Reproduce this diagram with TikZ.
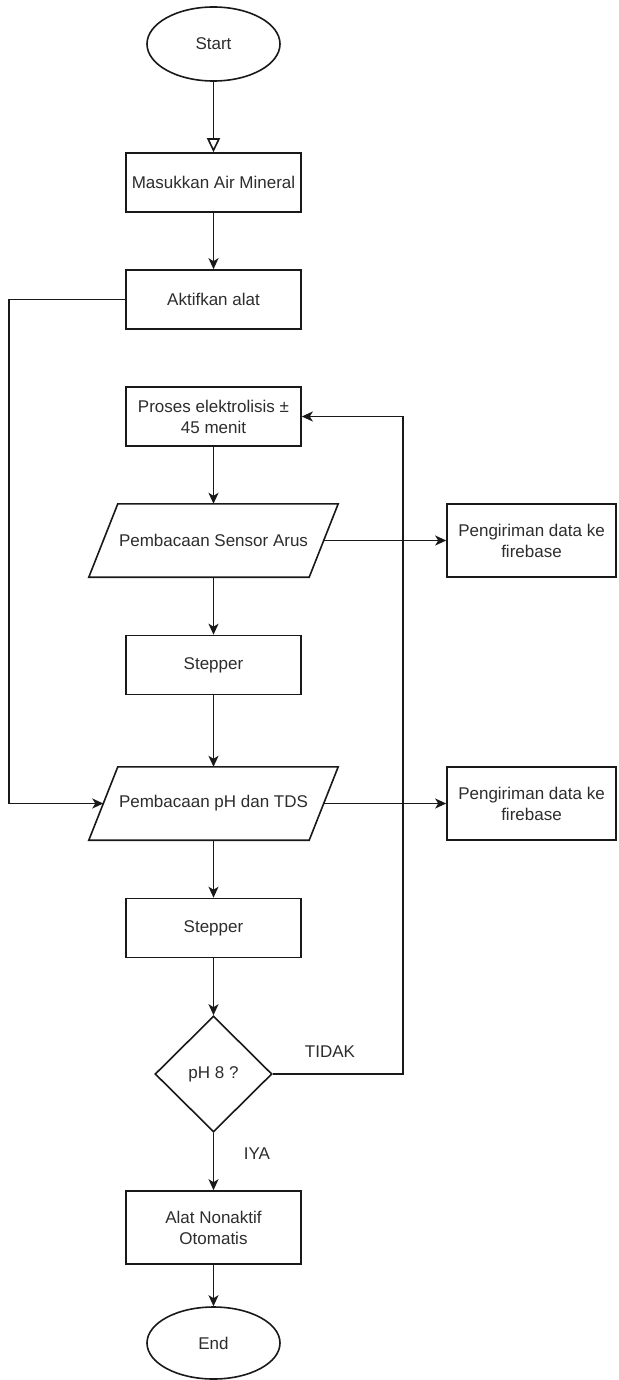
\documentclass[tikz,border=0pt]{standalone}
\usepackage{fontspec}
\setmainfont{Liberation Sans}
\usetikzlibrary{shapes.geometric,arrows.meta}
\definecolor{txt}{RGB}{45,45,45}
\definecolor{ln}{RGB}{25,25,25}
\begin{document}
\begin{tikzpicture}[x=1pt,y=-1pt,
  every node/.style={font=\fontsize{17}{21}\selectfont, text=txt, inner sep=0pt},
  box/.style={draw=ln, line width=1.6pt, minimum width=175pt, minimum height=59pt, align=center},
  fbox/.style={box, minimum width=169pt, minimum height=73pt},
  term/.style={draw=ln, line width=1.6pt, ellipse, minimum width=133pt, minimum height=74pt},
  para/.style={minimum width=220pt, minimum height=73pt},
  paraline/.style={draw=ln, line width=1.6pt, line join=miter},
  dec/.style={draw=ln, line width=1.6pt, diamond, minimum width=117pt, minimum height=116pt},
  arr/.style={draw=ln, line width=1.6pt, -{Stealth[length=11pt,width=10pt,inset=3pt]}},
  openarr/.style={draw=ln, line width=1.6pt, -{Triangle[open,length=14pt,width=13pt]}}
]
\useasboundingbox (0,0) rectangle (618,1380);
\fill[white] (0,0) rectangle (618,1380);

\node[term] (start) at (213.5,44) {Start};
\node[box] (masuk) at (213.5,182.5) {Masukkan Air Mineral};
\node[box] (aktif) at (213.5,299.5) {Aktifkan alat};
\node[box] (proses) at (213.5,416.5) {Proses elektrolisis ±\\45 menit};
\node[para] (sensor) at (213.5,540.5) {Pembacaan Sensor Arus};
\node[fbox] (fb1) at (531.5,540.5) {Pengiriman data ke\\firebase};
\node[box] (step1) at (213.5,665) {Stepper};
\node[para] (ph) at (213.5,803.5) {Pembacaan pH dan TDS};
\node[fbox] (fb2) at (531.5,803.5) {Pengiriman data ke\\firebase};
\node[box] (step2) at (213.5,928) {Stepper};
\node[dec] (cek) at (213.5,1074) {pH 8 ?};
\node[box, minimum height=73pt] (alat) at (213.5,1227.5) {Alat Nonaktif\\Otomatis};
\node[term, minimum height=72pt] (end) at (213.5,1343) {End};

\foreach \n in {sensor,ph}
  \draw[paraline] ([xshift=14.5pt]\n.north west) -- ([xshift=14.5pt]\n.north east)
    -- ([xshift=-14.5pt]\n.south east) -- ([xshift=-14.5pt]\n.south west) -- cycle;

\node (tidak) at (330,1052) {TIDAK};
\node (iya) at (257,1154) {IYA};

\coordinate (lft) at (9,299.5);
\coordinate (rt) at (403,1074);

\draw[openarr] (start) -- (masuk);
\draw[arr] (masuk) -- (aktif);
\draw[arr] (aktif.west) -- (lft) |- (ph.west);
\draw[arr] (proses) -- (sensor);
\draw[arr] (sensor.east) -- (fb1.west);
\draw[arr] (sensor) -- (step1);
\draw[arr] (step1) -- (ph);
\draw[arr] (ph.east) -- (fb2.west);
\draw[arr] (ph) -- (step2);
\draw[arr] (step2) -- (cek);
\draw[arr] (cek.east) -- (rt) |- (proses.east);
\draw[arr] (cek) -- (alat);
\draw[arr] (alat) -- (end);
\end{tikzpicture}
\end{document}
